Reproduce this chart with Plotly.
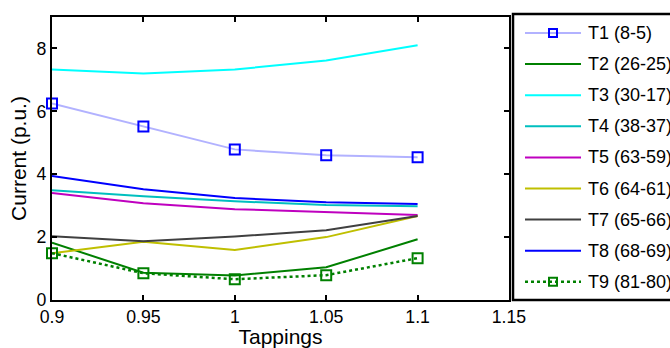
import plotly.graph_objects as go

tappings = [0.9, 0.95, 1.0, 1.05, 1.1]
names = ["T1 (8-5)", "T2 (26-25)", "T3 (30-17)", "T4 (38-37)", "T5 (63-59)",
         "T6 (64-61)", "T7 (65-66)", "T8 (68-69)", "T9 (81-80)"]
t1 = [6.25, 5.52, 4.79, 4.60, 4.54]
t2 = [1.82, 0.87, 0.78, 1.04, 1.93]
t3 = [7.33, 7.20, 7.33, 7.62, 8.10]
t4 = [3.49, 3.30, 3.14, 3.02, 2.98]
t5 = [3.40, 3.08, 2.89, 2.79, 2.70]
t6 = [1.49, 1.85, 1.59, 2.00, 2.67]
t7 = [2.03, 1.87, 2.02, 2.22, 2.67]
t8 = [3.94, 3.52, 3.24, 3.11, 3.05]
t9 = [1.49, 0.85, 0.66, 0.79, 1.33]
series = [t1, t2, t3, t4, t5, t6, t7, t8, t9]

colors = ["rgb(178,178,255)", "rgb(0,128,0)", "rgb(0,255,255)", "rgb(0,191,191)",
          "rgb(191,0,191)", "rgb(191,191,0)", "rgb(64,64,64)", "rgb(0,0,255)", "rgb(0,128,0)"]
marker_colors = {0: "rgb(0,0,255)", 8: "rgb(0,128,0)"}
dashes = {8: "dot"}

W, H = 670, 348
ML, MR, MT, MB = 52, 161, 17, 48
PW, PH = W - ML - MR, H - MT - MB


def px_x(x):
    return (x - ML) / PW


def px_y(y):
    return (H - MB - y) / PH


FONT = "Liberation Sans, Arial, sans-serif"
fig = go.Figure()
for i, (nm, ys, c) in enumerate(zip(names, series, colors)):
    line = dict(color=c, width=2.5 if i in dashes else 2, dash=dashes.get(i, "solid"))
    kw = dict(mode="lines")
    if i in marker_colors:
        mc = marker_colors[i]
        kw = dict(mode="lines+markers",
                  marker=dict(symbol="square-open", size=10, color=mc,
                              line=dict(width=2, color=mc)))
    fig.add_trace(go.Scatter(x=tappings, y=ys, name=nm, line=line,
                             cliponaxis=False, showlegend=False, **kw))

# legend box (extends past the right edge as in the reference)
shapes = [dict(type="rect", xref="paper", yref="paper",
               x0=px_x(513), x1=px_x(690), y0=px_y(300), y1=px_y(14),
               line=dict(color="black", width=2.5), fillcolor="white", layer="above")]
annotations = []
for i, (nm, c) in enumerate(zip(names, colors)):
    yc = 33 + 31.1 * i
    shapes.append(dict(type="line", xref="paper", yref="paper",
                       x0=px_x(525), x1=px_x(581), y0=px_y(yc), y1=px_y(yc),
                       line=dict(color=c, width=2.5 if i in dashes else 2,
                                 dash=dashes.get(i, "solid")), layer="above"))
    if i in marker_colors:
        shapes.append(dict(type="rect", xref="paper", yref="paper",
                           x0=px_x(549), x1=px_x(557), y0=px_y(yc + 4), y1=px_y(yc - 4),
                           line=dict(color=marker_colors[i], width=2), layer="above"))
    annotations.append(dict(text=nm, xref="paper", yref="paper", x=px_x(586), y=px_y(yc),
                            xanchor="left", yanchor="middle", showarrow=False,
                            font=dict(family=FONT, size=18, color="black")))

fig.update_layout(
    width=W, height=H,
    margin=dict(l=ML, r=MR, t=MT, b=MB, autoexpand=False),
    paper_bgcolor="white", plot_bgcolor="white",
    font=dict(family=FONT, size=17.7, color="black"),
    showlegend=False,
    shapes=shapes, annotations=annotations,
    xaxis=dict(range=[0.9, 1.15], tickvals=[0.9, 0.95, 1.0, 1.05, 1.1, 1.15],
               ticktext=["0.9", "0.95", "1", "1.05", "1.1", "1.15"],
               showline=True, linecolor="black", linewidth=2, mirror="ticks",
               ticks="inside", ticklen=5, tickwidth=2, tickcolor="black",
               showgrid=False, zeroline=False,
               title=dict(text="Tappings", standoff=0)),
    yaxis=dict(range=[0, 9], tickvals=[0, 2, 4, 6, 8],
               showline=True, linecolor="black", linewidth=2, mirror="ticks",
               ticks="inside", ticklen=5, tickwidth=2, tickcolor="black",
               showgrid=False, zeroline=False,
               title=dict(text="Current (p.u.)", standoff=4)),
)
fig.write_html("out.html")
